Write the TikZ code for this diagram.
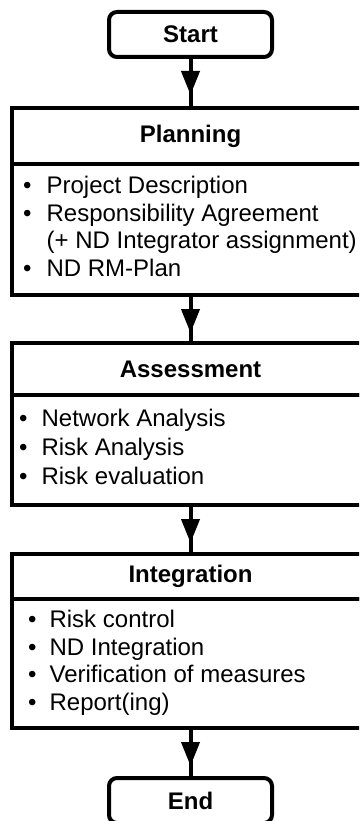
\documentclass[tikz,border=0pt]{standalone}
\usepackage{fontspec}
\setmainfont{Liberation Sans}
\usetikzlibrary{positioning,arrows.meta,decorations.markings}

\begin{document}
\begin{tikzpicture}[x=1pt,y=1pt,
  every node/.style={font=\fontsize{24}{27.5}\selectfont},
  term/.style={draw, line width=4pt, rounded corners=8pt, outer sep=0pt, inner sep=0pt,
    minimum width=163pt, minimum height=45pt, font=\fontsize{24}{27.5}\selectfont\bfseries},
  phasetitle/.style={draw, line width=4pt, outer sep=0pt, inner sep=0pt,
    minimum width=357pt, font=\fontsize{24}{27.5}\selectfont\bfseries},
  phasebody/.style={draw, line width=4pt, outer sep=0pt, inner sep=0pt, minimum width=357pt},
  items/.style={inner sep=0pt, align=left},
  flow/.style={line width=4pt, postaction={decorate},
    decoration={markings, mark=at position 38pt with {\arrow{Triangle[length=24pt,width=18pt]}}}}]
\useasboundingbox (0,0) rectangle (359,-821);
\clip (0,0) rectangle (359,-821);

\node[term] (start) at (190.5,-34.5) {Start};

% planning
\node[phasetitle, minimum height=56pt] (plantitle) at (190.5,-136) {Planning};
\node[phasebody, minimum height=131pt] (planbody) at (190.5,-229.5) {};
\node[items, right=11pt of planbody.west] (planitems) {\begin{tabular}{@{}l@{\hspace{15pt}}l@{}}
\textbullet & Project Description\\
\textbullet & Responsibility Agreement\\
 & (+ ND Integrator assignment)\\
\textbullet & ND RM-Plan
\end{tabular}};

% assessment
\node[phasetitle, minimum height=52pt] (asstitle) at (190.5,-369) {Assessment};
\node[phasebody, minimum height=110pt] (assbody) at (190.5,-450) {};
\node[items, right=7pt of assbody.west] (assitems) {\begin{tabular}{@{}l@{\hspace{14pt}}l@{}}
\textbullet & Network Analysis\\[1.5pt]
\textbullet & Risk Analysis\\[1.5pt]
\textbullet & Risk evaluation
\end{tabular}};

% integration
\node[phasetitle, minimum height=45pt] (inttitle) at (190.5,-576.5) {Integration};
\node[phasebody, minimum height=129pt] (intbody) at (190.5,-663.5) {};
\node[items, right=16pt of intbody.west] (intitems) {\begin{tabular}{@{}l@{\hspace{13pt}}l@{}}
\textbullet & Risk control\\
\textbullet & ND Integration\\
\textbullet & Verification of measures\\
\textbullet & Report(ing)
\end{tabular}};

\node[term] (stop) at (190.5,-800.5) {End};

\draw[flow] (start) -- (plantitle);
\draw[flow] (planbody) -- (asstitle);
\draw[flow] (assbody) -- (inttitle);
\draw[flow] (intbody) -- (stop);
\end{tikzpicture}
\end{document}
